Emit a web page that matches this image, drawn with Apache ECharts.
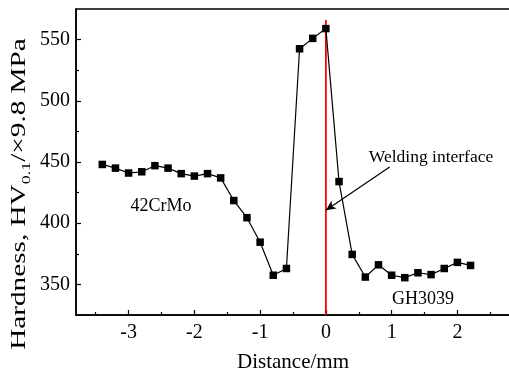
<!DOCTYPE html>
<html><head><meta charset="utf-8">
<script src="https://cdn.jsdelivr.net/npm/echarts@6/dist/echarts.min.js"></script>
<style>html,body{margin:0;padding:0;background:#fff}#c{width:509px;height:372px}</style>
</head><body><div id="c"></div>
<script>
var distance = [-3.4,-3.2,-3.0,-2.8,-2.6,-2.4,-2.2,-2.0,-1.8,-1.6,-1.4,-1.2,-1.0,-0.8,-0.6,-0.4,-0.2,0,0.2,0.4,0.6,0.8,1.0,1.2,1.4,1.6,1.8,2.0,2.2];
var hardness = [448,445,441,442,447,445,440.5,438.5,440.5,437,418.5,404.5,384.5,357.5,363,542.5,551,559,434,374.5,356,366,357.5,355.5,359.5,358,363,368,365.5];
var xMajor = [-3,-2,-1,0,1,2];
var xMinor = [-3.5,-2.5,-1.5,-0.5,0.5,1.5,2.5];
var yMajor = [350,400,450,500,550];
var yMinor = [375,425,475,525];
var interfaceLine = [[0,325],[0,566]];
var arrowFrom = [0.97,446], arrowTo = [0,410.5];
var F = 'Liberation Serif';
var tickStyle = {color:'#000',width:1.2};
function xAx(vals, len, labels, showLine){
  return {type:'value',min:-3.8,max:2.8,position:'bottom',
    axisLine:{show:showLine,onZero:false,lineStyle:{color:'#000',width:1.5}},
    axisTick:{inside:true,length:len,customValues:vals,lineStyle:tickStyle},
    splitLine:{show:false},
    axisLabel:labels?{color:'#000',fontFamily:F,fontSize:20,margin:8,customValues:vals}:{show:false}};
}
function yAx(vals, len, labels, showLine){
  return {type:'value',min:325,max:575,position:'left',
    axisLine:{show:showLine,onZero:false,lineStyle:{color:'#000',width:1.5}},
    axisTick:{inside:true,length:len,customValues:vals,lineStyle:tickStyle},
    splitLine:{show:false},
    axisLabel:labels?{color:'#000',fontFamily:F,fontSize:20,margin:6,customValues:vals}:{show:false}};
}
var xa = xAx(xMajor,5,true,true);
xa.name='Distance/mm'; xa.nameLocation='middle'; xa.nameGap=37;
xa.nameTextStyle={color:'#000',fontFamily:F,fontSize:21};
var chart = echarts.init(document.getElementById('c'));
chart.setOption({
  animation:false,
  grid:{left:76,top:9,right:-1,bottom:57,show:true,borderColor:'#000',borderWidth:1.5,containLabel:false,outerBoundsMode:'none'},
  xAxis:[xa, xAx(xMinor,3,false,false)],
  yAxis:[yAx(yMajor,5,true,true), yAx(yMinor,3,false,false)],
  graphic:[
    {type:'text',rotation:Math.PI/2,scaleX:1.39,scaleY:1,position:[21,194],style:{
      text:'{a|Hardness, HV}{s|0.1}{a|/×9.8 MPa}',
      rich:{a:{fontFamily:F,fontSize:21,fill:'#000',verticalAlign:'top',lineHeight:24},
            s:{fontFamily:F,fontSize:13,fill:'#000',verticalAlign:'bottom',lineHeight:24,padding:[12,0,0,0]}},
      textAlign:'center',textVerticalAlign:'middle',fill:'#000'}},
    {type:'text',position:[161,206],style:{text:'42CrMo',fontFamily:F,fontSize:18,fill:'#000',textAlign:'center',textVerticalAlign:'middle'}},
    {type:'text',position:[431,157],style:{text:'Welding interface',fontFamily:F,fontSize:17.5,fill:'#000',textAlign:'center',textVerticalAlign:'middle'}},
    {type:'text',position:[423,299],style:{text:'GH3039',fontFamily:F,fontSize:18,fill:'#000',textAlign:'center',textVerticalAlign:'middle'}}
  ],
  series:[
    {type:'line',data:interfaceLine,symbol:'none',lineStyle:{color:'#ff0000',width:1.8},z:3,silent:true},
    {type:'line',data:distance.map(function(d,i){return [d,hardness[i]];}),
      symbol:'rect',symbolSize:7.5,itemStyle:{color:'#000'},lineStyle:{color:'#000',width:1.2},z:4,
      markLine:{silent:true,symbol:['none','arrow'],symbolSize:[7,10],label:{show:false},
        lineStyle:{color:'#000',width:1.2,type:'solid'},
        data:[[{coord:arrowFrom},{coord:arrowTo}]]}}
  ]
});
</script></body></html>
